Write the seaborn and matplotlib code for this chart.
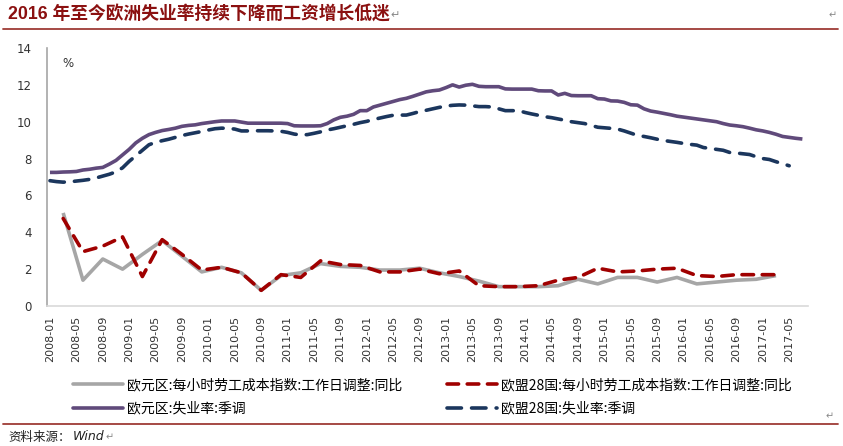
import numpy as np
import pandas as pd
import matplotlib
matplotlib.use("Agg")
import matplotlib.pyplot as plt
from matplotlib.lines import Line2D
import seaborn as sns

# ---------------- data ----------------
months = pd.period_range("2008-01", "2017-07", freq="M")          # 115 months
quarters = months[2:111:3]                                          # 2008-03 ... 2017-03

ea_unemp = [7.25, 7.25, 7.27, 7.28, 7.3, 7.38, 7.42, 7.48, 7.52, 7.7,
            7.9, 8.2, 8.5, 8.85, 9.1, 9.3, 9.42, 9.52, 9.58, 9.65,
            9.75, 9.8, 9.83, 9.9, 9.95, 10.0, 10.04, 10.04, 10.04, 9.98,
            9.92, 9.92, 9.92, 9.92, 9.92, 9.92, 9.9, 9.78, 9.77, 9.77,
            9.77, 9.78, 9.9, 10.1, 10.24, 10.3, 10.4, 10.6, 10.6, 10.8,
            10.9, 11.0, 11.1, 11.2, 11.27, 11.38, 11.5, 11.62, 11.68, 11.72,
            11.85, 12.0, 11.88, 11.98, 12.03, 11.92, 11.9, 11.9, 11.9, 11.78,
            11.77, 11.77, 11.77, 11.77, 11.68, 11.67, 11.67, 11.45, 11.54, 11.42,
            11.41, 11.41, 11.41, 11.25, 11.23, 11.13, 11.12, 11.05, 10.92, 10.9,
            10.7, 10.58, 10.52, 10.45, 10.38, 10.3, 10.25, 10.2, 10.15, 10.1,
            10.05, 10.0, 9.9, 9.82, 9.78, 9.73, 9.65, 9.56, 9.5, 9.42,
            9.32, 9.2, 9.15, 9.1, 9.06]

eu_unemp = [6.8, 6.75, 6.72, 6.74, 6.78, 6.82, 6.87, 6.95, 7.05, 7.15,
            7.28, 7.5, 7.85, 8.15, 8.45, 8.75, 8.88, 8.97, 9.05, 9.15,
            9.25, 9.33, 9.4, 9.47, 9.55, 9.62, 9.65, 9.64, 9.6, 9.5,
            9.5, 9.51, 9.51, 9.51, 9.5, 9.48, 9.42, 9.33, 9.28, 9.3,
            9.37, 9.45, 9.55, 9.62, 9.7, 9.78, 9.86, 9.95, 10.02, 10.12,
            10.2, 10.28, 10.35, 10.36, 10.36, 10.45, 10.55, 10.62, 10.7, 10.78,
            10.85, 10.89, 10.91, 10.9, 10.86, 10.82, 10.82, 10.8, 10.7, 10.6,
            10.6, 10.6, 10.5, 10.42, 10.35, 10.27, 10.22, 10.15, 10.08, 10.0,
            9.95, 9.9, 9.8, 9.7, 9.67, 9.64, 9.6, 9.5, 9.38, 9.26,
            9.2, 9.13, 9.05, 8.98, 8.93, 8.88, 8.82, 8.77, 8.73, 8.6,
            8.55, 8.5, 8.45, 8.33, 8.3, 8.26, 8.22, 8.1, 8.0, 7.95,
            7.83, 7.72, 7.61]

ea_cost = [5.05, 1.4, 2.55, 2.0, 2.8, 3.55, 2.7, 1.85, 2.1, 1.8,
           0.85, 1.65, 1.8, 2.3, 2.15, 2.1, 1.95, 1.95, 2.05, 1.8,
           1.6, 1.35, 1.05, 1.05, 1.05, 1.1, 1.45, 1.2, 1.55, 1.55,
           1.3, 1.55, 1.2, 1.3, 1.4, 1.45, 1.65]

eu_cost = [4.75, 2.95, 3.25, 3.75, 1.6, 3.6, 2.8, 1.95, 2.1, 1.8,
           0.85, 1.7, 1.55, 2.45, 2.25, 2.2, 1.85, 1.85, 2.0, 1.75,
           1.9, 1.1, 1.05, 1.05, 1.1, 1.4, 1.55, 2.05, 1.85, 1.9,
           2.0, 2.05, 1.65, 1.6, 1.7, 1.7, 1.7]

labels = ["欧元区:每小时劳工成本指数:工作日调整:同比",
          "欧盟28国:每小时劳工成本指数:工作日调整:同比",
          "欧元区:失业率:季调",
          "欧盟28国:失业率:季调"]
colors = ["#A6A6A6", "#A00000", "#604A7B", "#1B365D"]

# ---------------- figure ----------------
sns.set_style("white")
plt.rcParams["font.family"] = ["DejaVu Sans", "Noto Sans CJK SC"]

W, H = 843, 446
fig = plt.figure(figsize=(W / 100, H / 100), dpi=100)
ax = fig.add_axes([47 / W, 1 - 306 / H, (808 - 47) / W, (306 - 48) / H])

m0 = months[0]
x_month = np.array([(p - m0).n for p in months])
x_quarter = np.array([(p - m0).n for p in quarters])

series = [
    (x_quarter, ea_cost, labels[0], colors[0], None),
    (x_quarter, eu_cost, labels[1], colors[1], (3.2, 2.4)),
    (x_month[:len(ea_unemp)], ea_unemp, labels[2], colors[2], None),
    (x_month[:len(eu_unemp)], eu_unemp, labels[3], colors[3], (4.0, 2.8)),
]
lw = 2.6
handles = []
for xs, ys, lab, col, dash in series:
    df = pd.DataFrame({"x": xs, "y": ys})
    sns.lineplot(data=df, x="x", y="y", ax=ax, color=col, linewidth=lw,
                 legend=False, sort=True, estimator=None)
    ln = ax.lines[-1]
    ln.set_solid_capstyle("butt")
    ln.set_solid_joinstyle("round")
    if dash is not None:
        ln.set_dashes(dash)
        ln.set_dash_capstyle("round")
    h = Line2D([0], [0], color=col, linewidth=lw)
    if dash is not None:
        h.set_dashes(dash)
        h.set_dash_capstyle("round")
    handles.append(h)

ax.set_xlim(-0.45, 114.85)
ax.set_ylim(0, 14)
ax.set_yticks(range(0, 15, 2))
ax.set_yticklabels([str(v) for v in range(0, 15, 2)], fontsize=8.5, color="#333333")
tick_pos = x_month[::4]
ax.set_xticks(tick_pos)
ax.set_xticklabels([p.strftime("%Y-%m") for p in months[::4]], rotation=90,
                   fontsize=8, color="#333333")
ax.tick_params(axis="both", length=0)
ax.tick_params(axis="y", pad=11)
ax.tick_params(axis="x", pad=7)
ax.set_xlabel("")
ax.set_ylabel("")
for s in ["top", "right"]:
    ax.spines[s].set_visible(False)
ax.spines["left"].set_color("#A6A6A6")
ax.spines["left"].set_linewidth(1.2)
ax.spines["bottom"].set_color("#D9D9D9")
ax.spines["bottom"].set_linewidth(1.2)
ax.text(0.02, 0.94, "%", transform=ax.transAxes, fontsize=8.5, color="#333333",
        ha="left", va="center")

# legends (two independent columns)
leg_kw = dict(frameon=False, handlelength=3.6, handletextpad=0.3,
              labelspacing=0.68, borderpad=0, borderaxespad=0,
              prop={"family": ["Noto Sans CJK SC", "DejaVu Sans"], "size": 10})
l1 = fig.legend([handles[0], handles[2]], [labels[0], labels[2]], loc="upper left",
                bbox_to_anchor=(73 / W, 1 - 378 / H), **leg_kw)
l2 = fig.legend([handles[1], handles[3]], [labels[1], labels[3]], loc="upper left",
                bbox_to_anchor=(447 / W, 1 - 378 / H), **leg_kw)
for lg in (l1, l2):
    for t in lg.get_texts():
        t.set_color("#000000")

# title and decorations
title_col = "#8B1010"
t = fig.text(8 / W, 1 - 15 / H, "2016 年至今欧洲失业率持续下降而工资增长低迷",
             fontsize=12.8, fontweight="bold", color=title_col, ha="left", va="center",
             family=["Liberation Sans", "Noto Sans CJK SC"])
fig.add_artist(Line2D([3 / W, 838 / W], [1 - 29 / H, 1 - 29 / H], color="#9E3B36",
                      linewidth=1.3, transform=fig.transFigure))
fig.add_artist(Line2D([3 / W, 838 / W], [1 - 424 / H, 1 - 424 / H], color="#9E3B36",
                      linewidth=1.3, transform=fig.transFigure))
f1 = fig.text(8 / W, 1 - 437 / H, "资料来源：", fontsize=9, color="#222222",
              ha="left", va="center", family=["Noto Sans CJK SC"])
fig.canvas.draw()
r = fig.canvas.get_renderer()
bb = f1.get_window_extent(r)
f2 = fig.text(bb.x1 / W + 2 / W, 1 - 437 / H, "Wind", fontsize=9, color="#222222",
              ha="left", va="center", style="italic", family=["DejaVu Sans"])
tb = t.get_window_extent(r)
fig.text(tb.x1 / W + 1 / W, 1 - 15 / H, "↵", fontsize=8, color="#888888",
         ha="left", va="center", family=["DejaVu Sans"])
fig.canvas.draw()
bb2 = f2.get_window_extent(r)
fig.text(bb2.x1 / W + 1 / W, 1 - 437 / H, "↵", fontsize=7, color="#888888",
         ha="left", va="center", family=["DejaVu Sans"])
fig.text(829 / W, 1 - 15 / H, "↵", fontsize=7, color="#888888",
         ha="left", va="center", family=["DejaVu Sans"])
fig.text(826 / W, 1 - 416 / H, "↵", fontsize=7, color="#888888",
         ha="left", va="center", family=["DejaVu Sans"])

fig.savefig("out.png", dpi=100)
